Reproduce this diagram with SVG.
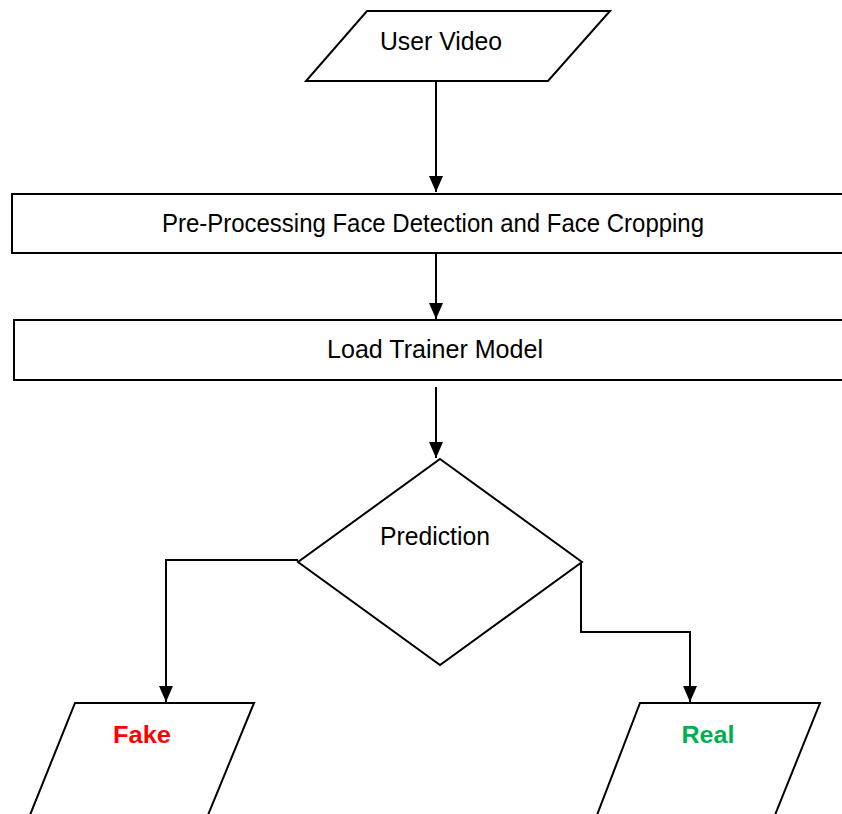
<svg xmlns="http://www.w3.org/2000/svg" width="842" height="814" viewBox="0 0 842 814">
<style>
.s{fill:#fff;stroke:#000;stroke-width:2}
.t{font-family:"Liberation Sans",Arial,sans-serif;font-size:26px;fill:#000;text-anchor:middle}
.b{font-family:"Liberation Sans",Arial,sans-serif;font-size:24px;font-weight:bold;text-anchor:middle}
.c{fill:none;stroke:#000;stroke-width:2}
</style>
<defs>
<marker id="a" markerWidth="16" markerHeight="14" refX="16" refY="7" orient="auto" markerUnits="userSpaceOnUse" viewBox="0 0 16 14">
<path d="M0,0 L16,7 L0,14 Z" fill="#000"/>
</marker>
</defs>
<rect width="842" height="814" fill="#fff"/>
<g id="connectors">
<line class="c" x1="436" y1="81" x2="436" y2="192" marker-end="url(#a)"/>
<line class="c" x1="436" y1="253" x2="436" y2="319" marker-end="url(#a)"/>
<line class="c" x1="436" y1="387" x2="436" y2="458" marker-end="url(#a)"/>
<polyline class="c" points="298,560 166,560 166,702" marker-end="url(#a)"/>
<polyline class="c" points="581,562 581,632 690,632 690,702" marker-end="url(#a)"/>
</g>
<g id="user-video">
<polygon class="s" points="367,11 610,11 548,81 306,81"/>
<text class="t" x="441" y="50" textLength="122" lengthAdjust="spacingAndGlyphs">User Video</text>
</g>
<g id="preprocessing">
<rect class="s" x="12" y="194" width="840" height="59"/>
<text class="t" x="433" y="232" textLength="542" lengthAdjust="spacingAndGlyphs">Pre-Processing Face Detection and Face Cropping</text>
</g>
<g id="load-model">
<rect class="s" x="14" y="320" width="840" height="60"/>
<text class="t" x="435" y="358" textLength="216" lengthAdjust="spacingAndGlyphs">Load Trainer Model</text>
</g>
<g id="prediction">
<polygon class="s" points="440,459 582,562 440,665 298,562"/>
<text class="t" x="435" y="545" textLength="110" lengthAdjust="spacingAndGlyphs">Prediction</text>
</g>
<g id="fake">
<polygon class="s" points="75,703 254,703 208,815 30,815"/>
<text class="b" x="142" y="743" fill="#ff0000" textLength="58" lengthAdjust="spacingAndGlyphs">Fake</text>
</g>
<g id="real">
<polygon class="s" points="640,703 820,703 775,815 597,815"/>
<text class="b" x="708" y="743" fill="#00b050" textLength="53" lengthAdjust="spacingAndGlyphs">Real</text>
</g>
</svg>
